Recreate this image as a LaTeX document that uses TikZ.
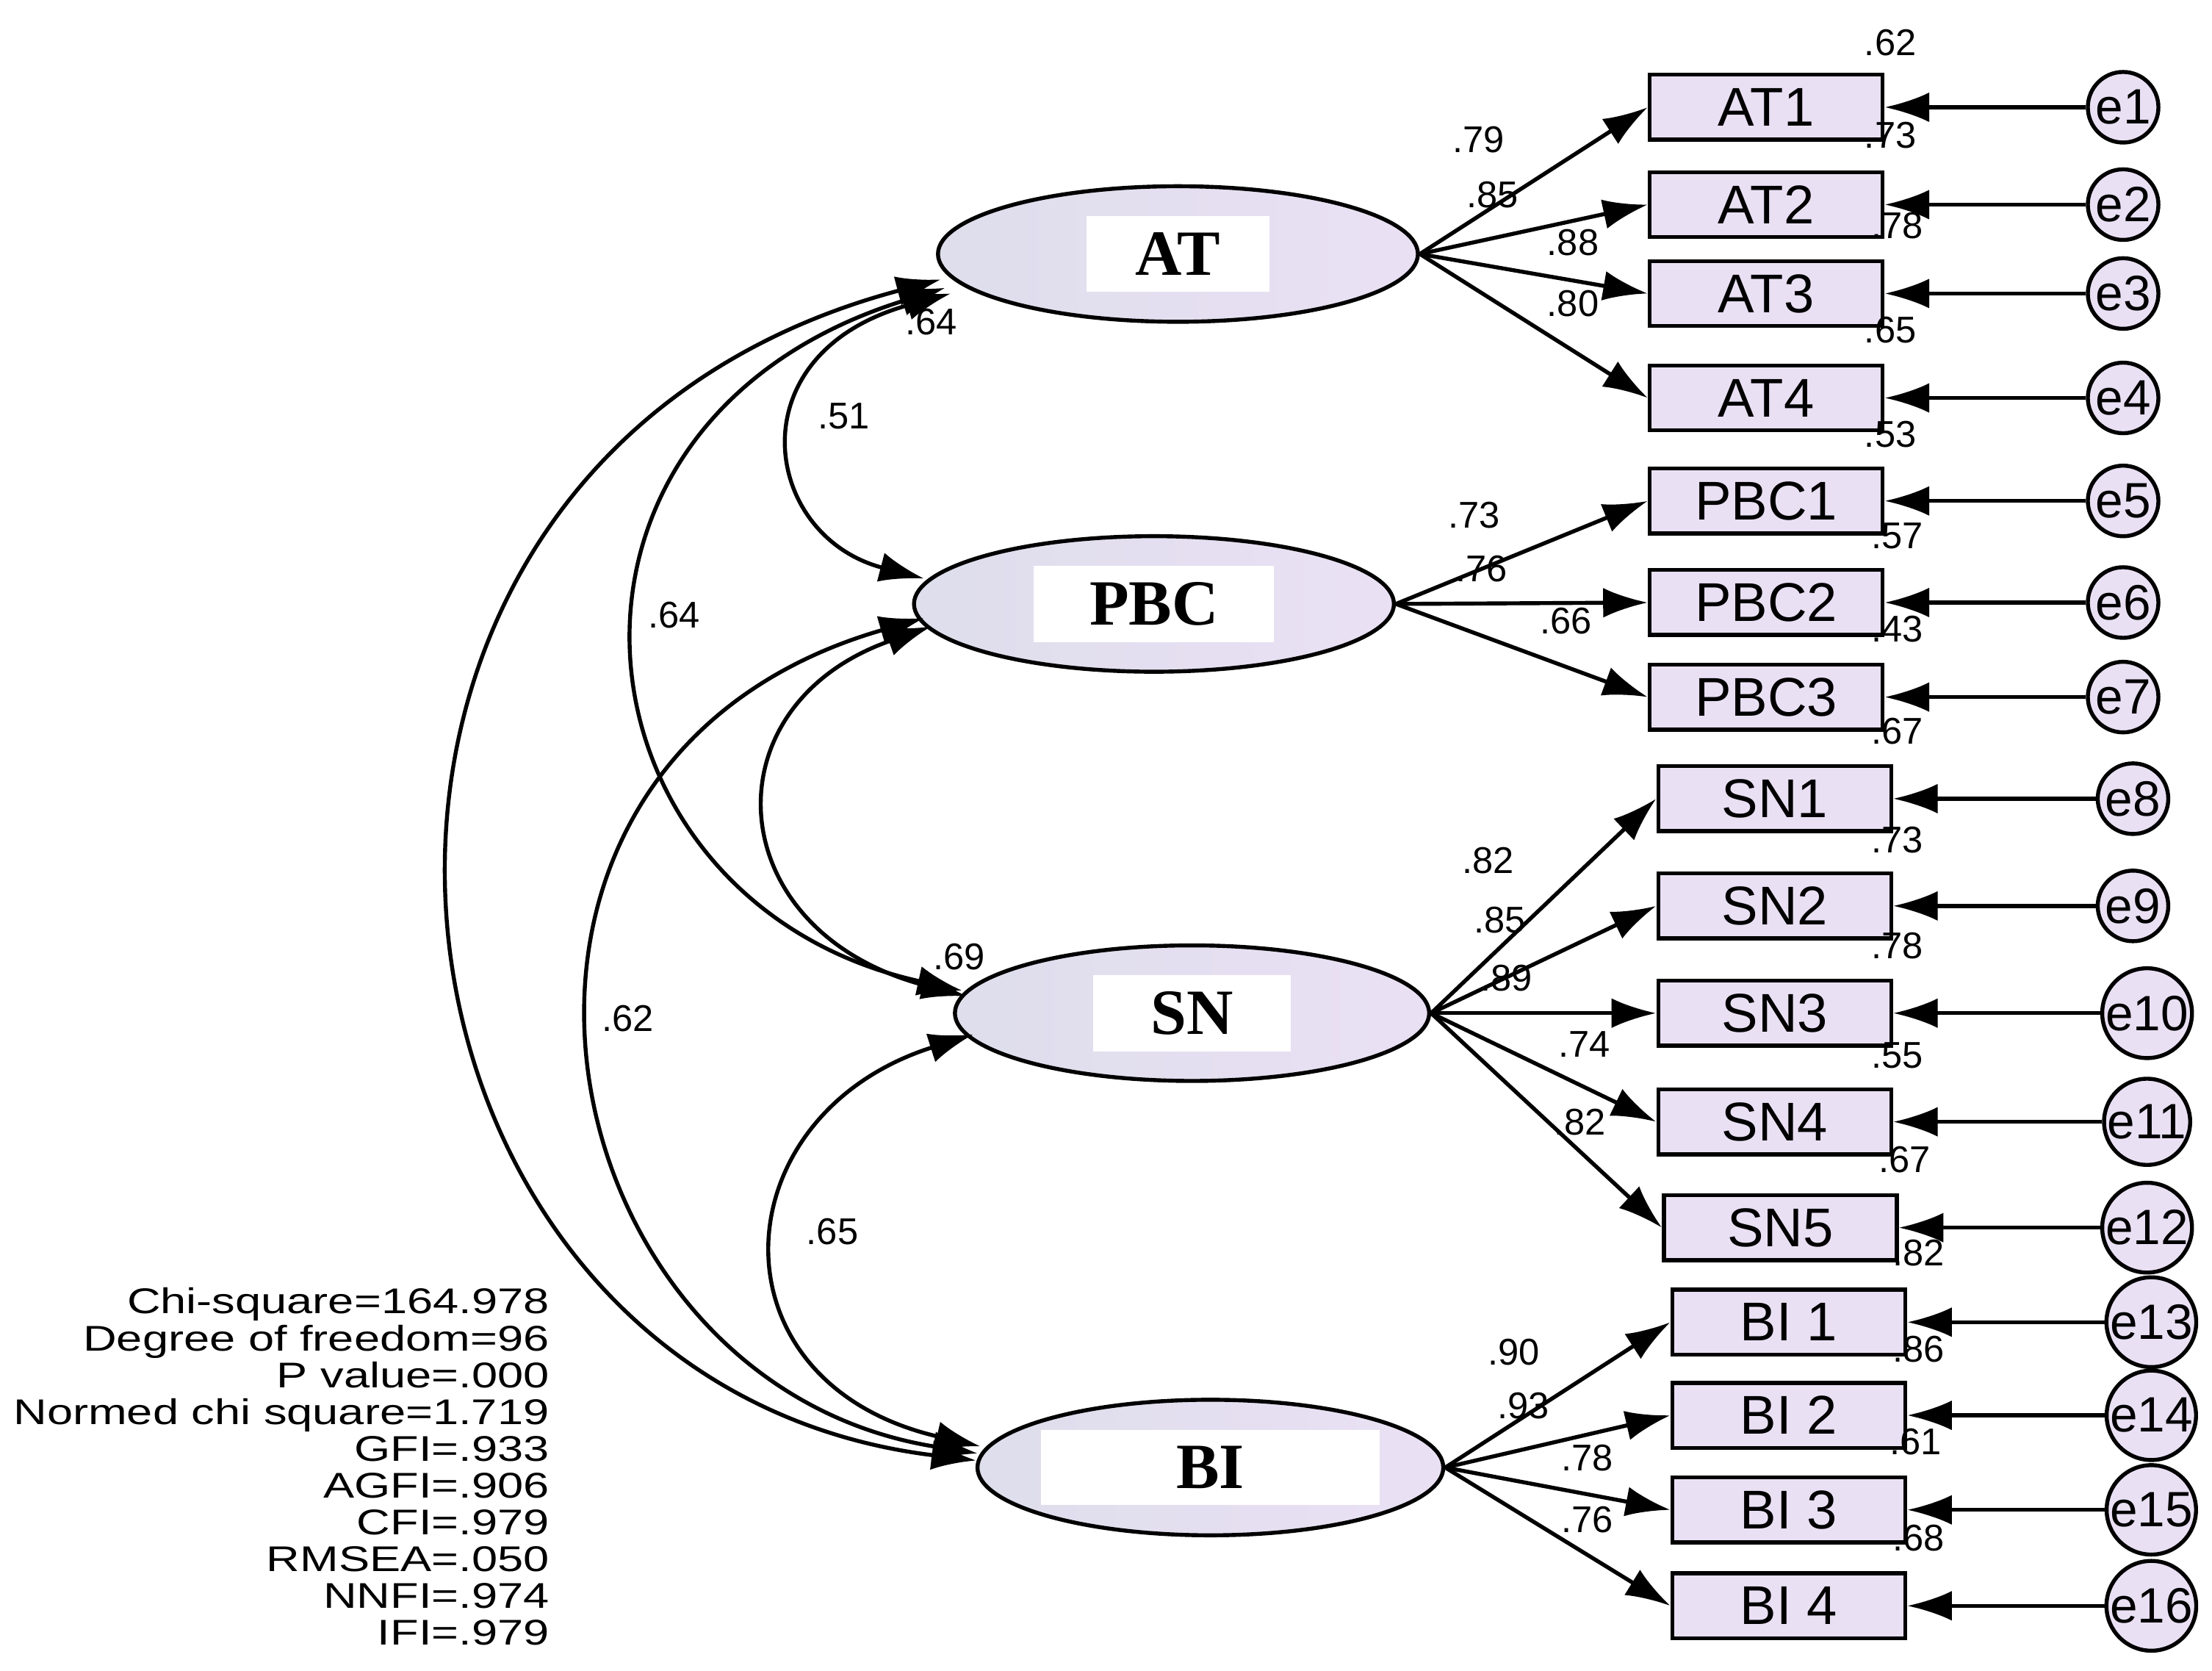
\documentclass[tikz,border=0pt]{standalone}
\usepackage{fontspec}
\setmainfont{Liberation Sans}
\newfontfamily\lserif{Liberation Serif}
\usetikzlibrary{arrows.meta,shapes.geometric}
\definecolor{lav}{RGB}{234,224,244}
\definecolor{lavd}{RGB}{222,222,236}
\begin{document}
\begin{tikzpicture}[x=0.01cm,y=-0.01cm,
 lat/.style={ellipse,draw,thick,left color=lavd,right color=lav,inner sep=0},
 obs/.style={draw,thick,fill=lav,minimum width=1.65cm,minimum height=0.46cm,font=\fontsize{11}{11}\selectfont,inner sep=0},
 err/.style={circle,draw,thick,fill=lav,minimum size=0.5cm,inner sep=0,font=\fontsize{10}{10}\selectfont},
 arr/.style={thick,-{Latex[length=9pt,width=6pt]}},
 cov/.style={thick,{Latex[length=9pt,width=6pt]}-{Latex[length=9pt,width=6pt]}},
 num/.style={font=\fontsize{7.5}{8}\selectfont,inner sep=0},
 lbl/.style={fill=white,font=\lserif\bfseries\fontsize{13}{13}\selectfont,minimum width=1.3cm,minimum height=0.36cm}]
\useasboundingbox (0,0) rectangle (1568,1184);
\begin{scope}
\clip (0,0) rectangle (1568,1184);
% latent
\node[lat,minimum width=3.4cm,minimum height=0.96cm] (AT) at (835,180) {};
\node[lbl] at (835,180) {AT};
\node[lat,minimum width=3.4cm,minimum height=0.96cm] (PBC) at (818,428) {};
\node[lbl,minimum width=1.7cm] at (818,428) {PBC};
\node[lat,minimum width=3.36cm,minimum height=0.96cm] (SN) at (845,718) {};
\node[lbl,minimum width=1.4cm] at (845,718) {SN};
\node[lat,minimum width=3.3cm,minimum height=0.96cm] (BI) at (858,1040) {};
\node[lbl,minimum width=2.4cm] at (858,1040) {BI};
% observed + errors
\foreach \n/\t/\x/\y/\e/\ex in {AT1/AT1/1252/76/e1/1505,AT2/AT2/1252/145/e2/1505,AT3/AT3/1252/208/e3/1505,AT4/AT4/1252/282/e4/1505,
 PBC1/PBC1/1252/355/e5/1505,PBC2/PBC2/1252/427/e6/1505,PBC3/PBC3/1252/494/e7/1505,
 SN1/SN1/1258/566/e8/1512,SN2/SN2/1258/642/e9/1512,SN3/SN3/1258/718/e10/1522,SN4/SN4/1258/795/e11/1522,SN5/SN5/1262/870/e12/1522,
 BI1/BI 1/1268/937/e13/1525,BI2/BI 2/1268/1003/e14/1525,BI3/BI 3/1268/1070/e15/1525,BI4/BI 4/1268/1138/e16/1525}{
 \node[obs] (\n) at (\x,\y) {\t};
 \node[err] (\e) at (\ex,\y) {\e};
 \draw[arr] (\e) -- (\n);
}
\foreach \l/\o in {AT/AT1,AT/AT2,AT/AT3,AT/AT4,PBC/PBC1,PBC/PBC2,PBC/PBC3,SN/SN1,SN/SN2,SN/SN3,SN/SN4,SN/SN5,BI/BI1,BI/BI2,BI/BI3,BI/BI4}
 \draw[arr] (\l.east) -- (\o.west);
% covariance end points on the ellipses
\coordinate (a1) at (674,208); \coordinate (a2) at (670,204); \coordinate (a3) at (667,198);
\coordinate (p1) at (655,410); \coordinate (p2) at (660,444); \coordinate (p3) at (655,438);
\coordinate (s1) at (682,702); \coordinate (s2) at (685,706); \coordinate (s3) at (690,733);
\coordinate (b1) at (695,1025); \coordinate (b2) at (693,1030); \coordinate (b3) at (692,1035);
\draw[cov] (a1) .. controls (520,250) and (540,380) .. (p1);
\draw[cov] (a2) .. controls (360,300) and (400,640) .. (s1);
\draw[cov] (a3) .. controls (170,330) and (240,980) .. (b3);
\draw[cov] (p2) .. controls (500,500) and (510,660) .. (s2);
\draw[cov] (p3) .. controls (300,540) and (380,980) .. (b2);
\draw[cov] (s3) .. controls (510,790) and (500,980) .. (b1);
% numbers
\foreach \t/\x/\y in {.64/660/228,.51/598/295,.64/478/436,.62/445/722,.69/680/678,.65/590/873,
 .79/1048/99,.85/1058/138,.88/1115/172,.80/1115/215,
 .73/1045/365,.76/1050/403,.66/1110/440,
 .82/1055/610,.85/1063/652,.89/1068/693,.74/1123/740,.82/1120/795,
 .90/1073/958,.93/1080/996,.78/1125/1033,.76/1125/1077,
 .62/1340/30,.73/1340/96,.78/1345/160,.65/1340/234,.53/1340/308,.57/1345/380,.43/1345/446,.67/1345/518,
 .73/1345/595,.78/1345/670,.55/1345/748,.67/1350/822,.82/1360/888,.86/1360/956,.61/1358/1022,.68/1360/1090}
 \node[num] at (\x,\y) {\t};
\end{scope}
\node[anchor=north east,inner sep=0] (fit) at (390,912) {\scalebox{1.3}[1]{\fontsize{7.2}{7.4}\selectfont\begin{tabular}{@{}r@{}}Chi-square=164.978\\Degree of freedom=96\\P value=.000\\Normed chi square=1.719\\GFI=.933\\AGFI=.906\\CFI=.979\\RMSEA=.050\\NNFI=.974\\IFI=.979\end{tabular}}};
\end{tikzpicture}
\end{document}
